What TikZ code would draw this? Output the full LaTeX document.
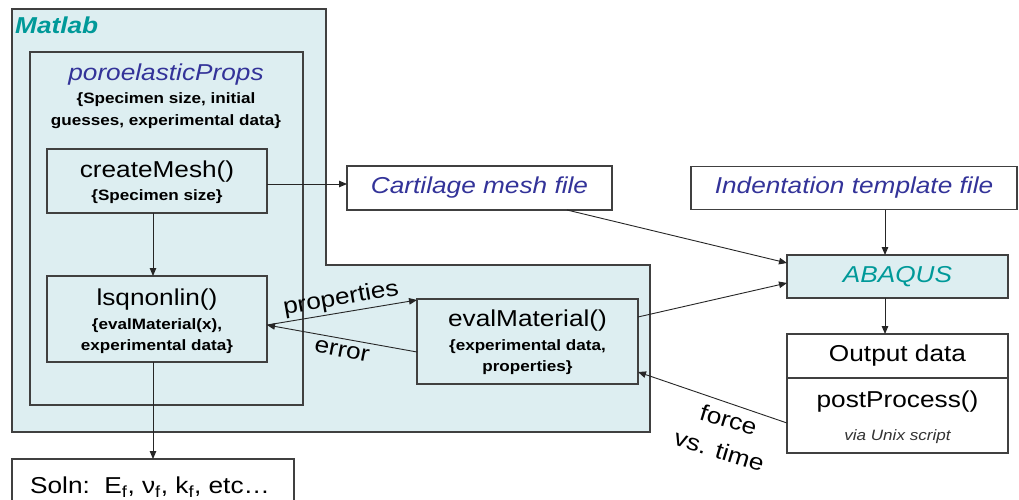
\documentclass[tikz,border=0pt]{standalone}
\usepackage{fontspec}
\setmainfont{Liberation Sans}[FakeStretch=1.14]
\usetikzlibrary{arrows.meta,calc}
\definecolor{boxfill}{HTML}{DDEEF1}
\definecolor{boxline}{HTML}{404040}
\definecolor{tealtxt}{HTML}{009999}
\definecolor{indigotxt}{HTML}{333399}
\begin{document}
\begin{tikzpicture}[x=1pt,y=-1pt,
  boxn/.style={draw=boxline, line width=1.1pt, inner sep=0pt, outer sep=0pt, align=center},
  filled/.style={fill=boxfill},
  arr/.style={draw=black!85, line width=0.9pt, -{Triangle[length=8pt,width=6.5pt]}},
  fbig/.style={font=\fontsize{23}{26}\selectfont},
  fsb/.style={font=\fontsize{15}{18}\selectfont\bfseries},
  lbl/.style={inner sep=0pt, fbig}
]
\clip (0,0) rectangle (1019,500);
\fill[white] (0,0) rectangle (1019,500);

% Matlab region
\draw[draw=boxline, line width=1.1pt, fill=boxfill]
  (12,9) -- (326,9) -- (326,265) -- (650,265) -- (650,432) -- (12,432) -- cycle;
\node[anchor=west, inner sep=0pt, text=tealtxt, font=\fontsize{23}{26}\selectfont\bfseries\itshape] (matlab) at (15,25) {Matlab};

% poroelasticProps
\node[boxn, filled, minimum width=273pt, minimum height=353pt] (poro) at (166.5,228.5) {};
\node[lbl, text=indigotxt, font=\fontsize{23}{26}\selectfont\itshape] (porot) at (166,75) {poroelasticProps};
\node[inner sep=0pt, fsb] (porosub1) at (166,100) {\{Specimen size, initial};
\node[inner sep=0pt, fsb] (porosub2) at (166,122) {guesses, experimental data\}};

% createMesh
\node[boxn, filled, minimum width=220pt, minimum height=64pt] (cm) at (157,181) {};
\node[lbl] (cmt) at (157,172) {createMesh()};
\node[inner sep=0pt, fsb] (cms) at (157,197) {\{Specimen size\}};

% lsqnonlin
\node[boxn, filled, minimum width=220pt, minimum height=86pt] (lsq) at (157,319) {};
\node[lbl] (lsqt) at (157,300) {lsqnonlin()};
\node[inner sep=0pt, fsb] (lsqs1) at (157,326) {\{evalMaterial(x),};
\node[inner sep=0pt, fsb] (lsqs2) at (157,347) {experimental data\}};

% Soln
\node[boxn, fill=white, minimum width=282pt, minimum height=56pt] (soln) at (153,487) {};
\node[lbl] (solnt) at (150,487) {Soln:\ \ E\textsubscript{f}, ν\textsubscript{f}, k\textsubscript{f}, etc…};

% evalMaterial
\node[boxn, filled, minimum width=221pt, minimum height=85pt] (ev) at (527.5,341.5) {};
\node[lbl] (evt) at (527.5,321) {evalMaterial()};
\node[inner sep=0pt, fsb] (evs1) at (527.5,347) {\{experimental data,};
\node[inner sep=0pt, fsb] (evs2) at (527.5,368) {properties\}};

% Cartilage mesh file
\node[boxn, fill=white, minimum width=265pt, minimum height=44pt, text=indigotxt, font=\fontsize{23}{26}\selectfont\itshape] (cart) at (479.5,188) {Cartilage mesh file};

% Indentation template file
\node[boxn, fill=white, minimum width=326pt, minimum height=43pt, text=indigotxt, font=\fontsize{23}{26}\selectfont\itshape] (ind) at (854,188) {Indentation template file};

% ABAQUS
\node[boxn, filled, minimum width=221pt, minimum height=43pt, text=tealtxt, font=\fontsize{23}{26}\selectfont\itshape] (ab) at (897.5,276.5) {ABAQUS};

% Output data / postProcess
\node[boxn, fill=white, minimum width=221pt, minimum height=44pt, fbig] (od) at (897.5,356) {Output data};
\node[boxn, fill=white, minimum width=221pt, minimum height=75pt] (pp) at (897.5,415.5) {};
\node[lbl] (ppt) at (897.5,402) {postProcess()};
\node[inner sep=0pt, text=black!80, font=\fontsize{15}{18}\selectfont\itshape] (pps) at (897.5,437) {via Unix script};

% coordinates
\coordinate (p) at ($(lsq.east)+(0,6)$);
\coordinate (evprop) at ($(ev.north west)+(0,1)$);
\coordinate (everr) at ($(ev.west)+(0,10.5)$);
\coordinate (cmout) at ($(cm.east)+(0,3)$);
\coordinate (cartout) at ($(cart.south)+(87.5,0)$);
\coordinate (abin1) at ($(ab.west)+(0,-13.5)$);
\coordinate (abin2) at ($(ab.west)+(0,6.5)$);
\coordinate (evout) at ($(ev.east)+(0,-24.5)$);
\coordinate (ppout) at ($(pp.west)+(0,7.5)$);
\coordinate (evin) at ($(ev.east)+(0,30.5)$);
\coordinate (abx) at ($(ab.north)+(-12.5,0)$);

% connectors
\draw[arr] (cmout) -- (cmout -| cart.west);
\draw[arr] (cm.south -| soln.north) -- (lsq.north -| soln.north);
\draw[arr] (lsq.south -| soln.north) -- (soln.north);
\draw[arr] (p) -- (evprop);
\draw[arr] (everr) -- (p);
\draw[arr] (cartout) -- (abin1);
\draw[arr] (evout) -- (abin2);
\draw[arr] (ind.south -| abx) -- (abx);
\draw[arr] (ab.south -| abx) -- (od.north -| abx);
\draw[arr] (ppout) -- (evin);

% connector labels
\node[lbl, rotate=10] (lprop) at (341,299) {properties};
\node[lbl, rotate=-11] (lerr) at (342,351) {error};
\node[lbl, rotate=-17, align=center, font=\fontsize{23}{32}\selectfont] (lforce) at (724,435) {force\\vs. time};
\end{tikzpicture}
\end{document}
